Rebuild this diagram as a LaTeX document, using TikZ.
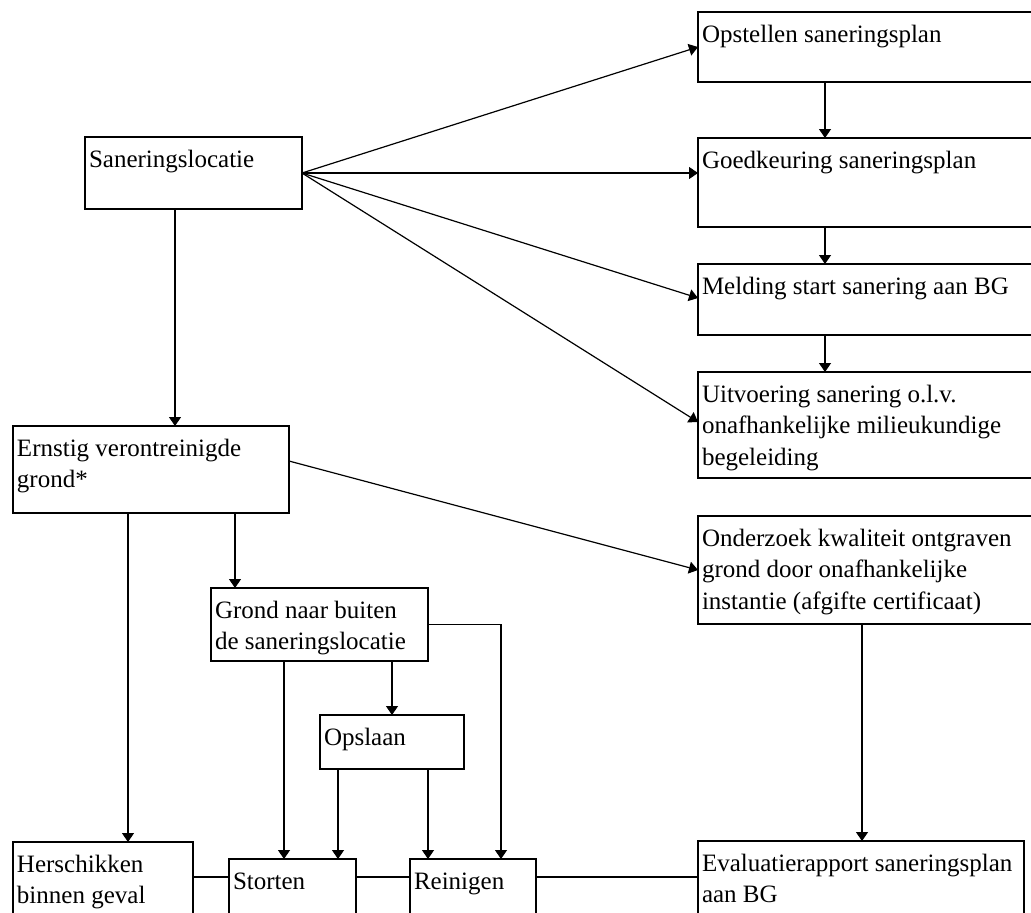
\documentclass[tikz,border=0pt]{standalone}
\usepackage{fontspec}
\setmainfont{Liberation Serif}
\usetikzlibrary{arrows.meta}
\tikzset{
  bx/.style={draw, line width=0.85pt, inner sep=0pt, outer sep=0pt, rectangle},
  txt/.style={inner sep=0pt, outer sep=0pt, align=left, font=\fontsize{12.5pt}{15.75pt}\selectfont},
  arr/.style={line width=0.6pt, -{Triangle[length=4.5pt,width=6pt]}},
  ln/.style={line width=0.6pt}
}
\newcommand\mybox[6]{%
  \node[bx, anchor=north west, minimum width={(#4-#2)*0.5pt}, minimum height={(#5-#3)*0.5pt}] (#1) at (#2,#3) {};
  \node[txt, anchor=north west] (#1t) at ([xshift=2pt,yshift=-4pt]#1.north west) {\strut #6};
}
\begin{document}
\begin{tikzpicture}[x=0.5pt,y=-0.5pt]
\useasboundingbox (0,0) rectangle (1031,912);
\clip (0,0) rectangle (1031,912);
\fill[white] (0,0) rectangle (1031,912);
% boxes
\mybox{op}{698}{12}{1045}{82}{Opstellen saneringsplan}
\mybox{gk}{698}{138}{1045}{227}{Goedkeuring saneringsplan}
\mybox{me}{698}{264}{1045}{335}{Melding start sanering aan BG}
\mybox{ui}{698}{372}{1045}{478}{Uitvoering sanering o.l.v.\\onafhankelijke milieukundige\\begeleiding}
\mybox{sl}{85}{137}{302}{209}{Saneringslocatie}
\mybox{er}{13}{426}{289}{513}{Ernstig verontreinigde\\grond*}
\mybox{gr}{211}{588}{428}{661}{Grond naar buiten\\de saneringslocatie}
\mybox{os}{320}{715}{464}{769}{Opslaan}
\mybox{on}{698}{516}{1045}{624}{Onderzoek kwaliteit ontgraven\\grond door onafhankelijke\\instantie (afgifte certificaat)}
\mybox{ev}{698}{841}{1024}{940}{Evaluatierapport saneringsplan\\aan BG}
\mybox{he}{13}{842}{193}{940}{Herschikken\\binnen geval}
\mybox{st}{229}{859}{356}{940}{Storten}
\mybox{re}{410}{859}{536}{940}{Reinigen}
% fan from Saneringslocatie
\draw[arr] (sl.east) -- (op.west);
\draw[arr] (sl.east) -- (sl.east -| gk.west);
\draw[arr] (sl.east) -- ([yshift=0.75pt]me.west);
\draw[arr] (sl.east) -- ([yshift=1.5pt]ui.west);
% right column chain
\draw[arr] ([xshift=63.5pt]op.south west) -- ([xshift=63.5pt]gk.north west);
\draw[arr] ([xshift=63.5pt]gk.south west) -- ([xshift=63.5pt]me.north west);
\draw[arr] ([xshift=63.5pt]me.south west) -- ([xshift=63.5pt]ui.north west);
% left part
\draw[arr] ([xshift=45pt]sl.south west) -- ([xshift=45pt]sl.south west |- er.north);
\draw[arr] ([xshift=57.5pt]er.south west) -- ([xshift=57.5pt]er.south west |- he.north);
\draw[arr] ([xshift=111pt]er.south west) -- ([xshift=111pt]er.south west |- gr.north);
\draw[arr] ([yshift=-17.5pt]er.north east) -- (on.west);
\draw[arr] ([xshift=36.5pt]gr.south west) -- ([xshift=36.5pt]gr.south west |- st.north);
\draw[arr] ([xshift=90.5pt]gr.south west) -- ([xshift=90.5pt]gr.south west |- os.north);
\draw[arr] (gr.east) -| ([xshift=45.5pt]re.north west);
\draw[arr] ([xshift=9pt]os.south west) -- ([xshift=9pt]os.south west |- st.north);
\draw[arr] ([xshift=54pt]os.south west) -- ([xshift=54pt]os.south west |- re.north);
\draw[arr] ([xshift=82pt]on.south west) -- ([xshift=82pt]ev.north west);
% bottom links
\draw[ln] ([yshift=-17.5pt]he.north east) -- ([yshift=-17.5pt]he.north east -| st.west);
\draw[ln] ([yshift=-9pt]st.north east) -- ([yshift=-9pt]st.north east -| re.west);
\draw[ln] ([yshift=-9pt]re.north east) -- ([yshift=-9pt]re.north east -| ev.west);
\end{tikzpicture}
\end{document}
